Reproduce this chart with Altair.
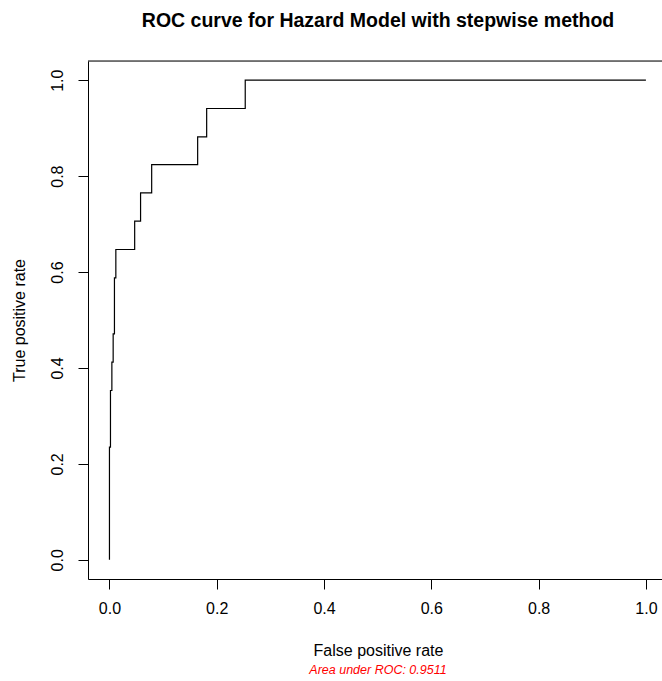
import altair as alt
import pandas as pd

# ROC curve vertices (false positive rate, true positive rate)
fpr = [0.0, 0.0, 0.0019, 0.0045, 0.0069, 0.0093, 0.0119, 0.047, 0.058, 0.0787, 0.1644, 0.1812, 0.2531, 1.0]
tpr = [0.0, 0.235, 0.353, 0.412, 0.471, 0.588, 0.647, 0.706, 0.765, 0.824, 0.882, 0.941, 1.0, 1.0]
tick_values = [0.0, 0.2, 0.4, 0.6, 0.8, 1.0]

title_text = "ROC curve for Hazard Model with stepwise method"
caption_text = ["Area under ROC: 0.9511"]

FONT = "Liberation Sans"
W, H = 574, 518

roc = pd.DataFrame({"fpr": fpr, "tpr": tpr, "i": list(range(len(fpr)))})

x_axis = alt.Axis(
    values=tick_values, format=".1f", grid=False,
    tickSize=10, tickColor="black", tickWidth=1,
    domainColor="black", domainWidth=1,
    labelFont=FONT, labelFontSize=16, labelColor="black",
    labelPadding=11, labelBaseline="top", labelFlush=False, labelOverlap=False,
    title="False positive rate", titleFont=FONT, titleFontSize=16,
    titleFontWeight="normal", titleColor="black",
    titleX=290, titleY=76, titleAlign="center", titleBaseline="alphabetic",
)
y_axis = alt.Axis(
    values=tick_values, format=".1f", grid=False,
    tickSize=10, tickColor="black", tickWidth=1,
    domainColor="black", domainWidth=1,
    labelFont=FONT, labelFontSize=16, labelColor="black",
    labelAngle=270, labelAlign="center", labelBaseline="alphabetic",
    labelPadding=16, labelFlush=False, labelOverlap=False,
    title="True positive rate", titleFont=FONT, titleFontSize=16,
    titleFontWeight="normal", titleColor="black",
    titleAngle=270, titleX=-64, titleY=259, titleAlign="center",
    titleBaseline="alphabetic",
)

line = alt.Chart(roc).mark_line(
    interpolate="step-after", color="black", strokeWidth=1.2
).encode(
    x=alt.X("fpr:Q", scale=alt.Scale(domain=[-0.04, 1.03], nice=False, zero=False), axis=x_axis),
    y=alt.Y("tpr:Q", scale=alt.Scale(domain=[-0.04, 1.04], nice=False, zero=False), axis=y_axis),
    order=alt.Order("i:Q"),
)

top_border = alt.Chart(pd.DataFrame({"b": [0]})).mark_rule(
    color="black", strokeWidth=1
).encode(x=alt.value(0), x2=alt.value(W), y=alt.value(0))

caption = alt.Chart(pd.DataFrame({"t": caption_text})).mark_text(
    font=FONT, fontSize=12.5, fontStyle="italic", color="red",
    align="center", baseline="alphabetic"
).encode(text="t:N", x=alt.value(290), y=alt.value(613))

chart = alt.layer(line, top_border, caption).properties(
    width=W, height=H,
    title=alt.TitleParams(
        title_text, font=FONT, fontSize=19.5, fontWeight="bold", color="black",
        anchor="middle", frame="group", dx=3, offset=29,
    ),
    autosize=alt.AutoSizeParams(type="none"),
    padding={"left": 88, "top": 61, "right": 0, "bottom": 102},
).configure_view(stroke=None).configure(background="white")

chart.save("out.html", embed_options={"renderer": "svg", "actions": False})
